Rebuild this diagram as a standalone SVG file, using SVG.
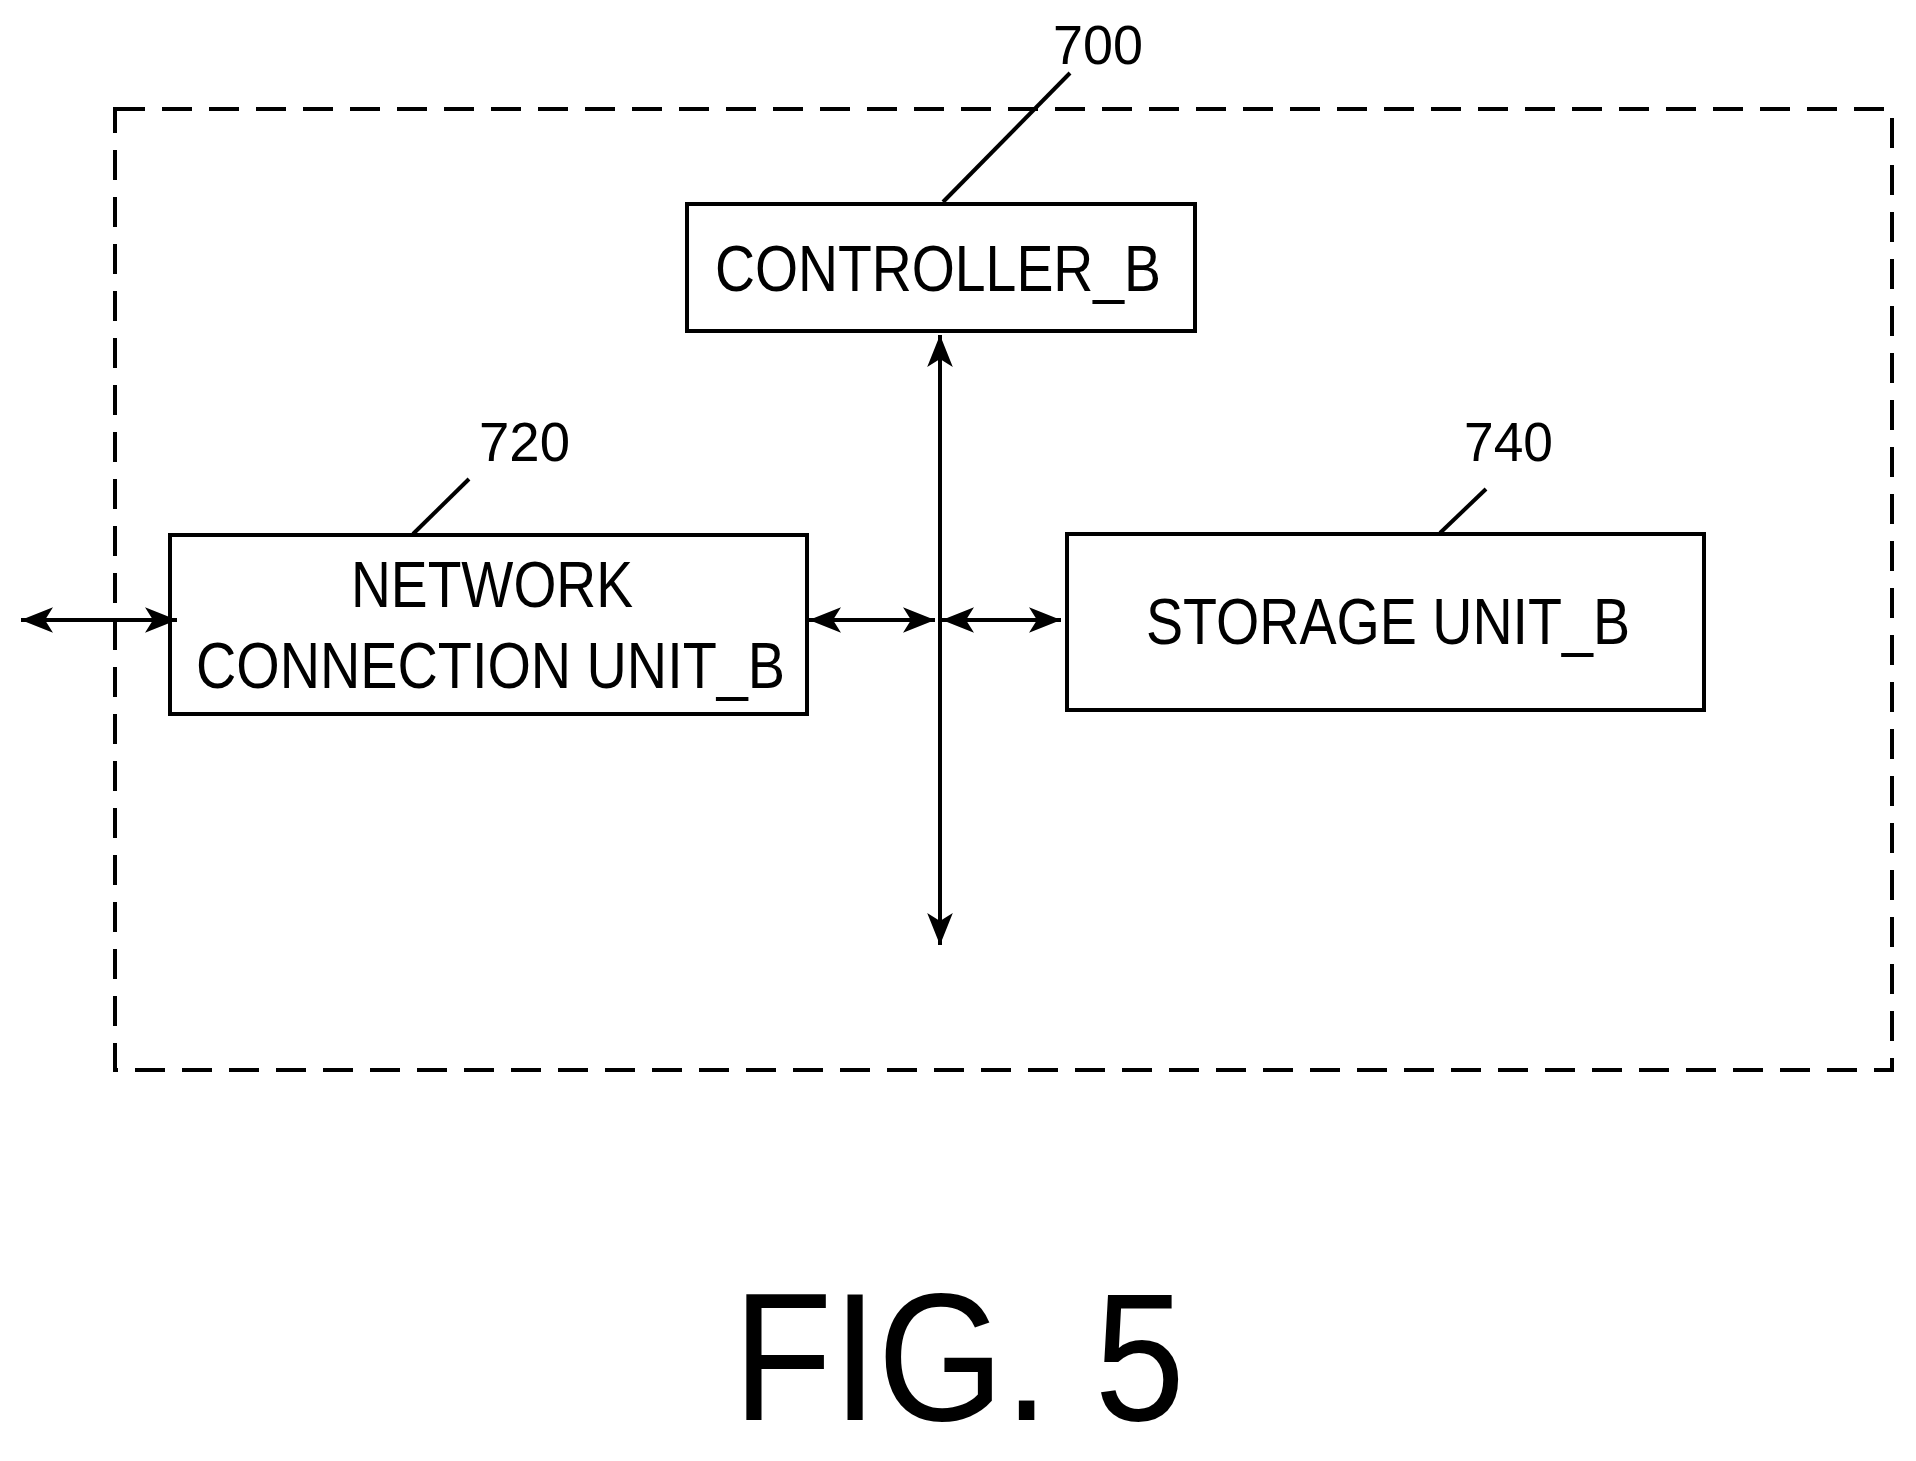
<svg xmlns="http://www.w3.org/2000/svg" width="1916" height="1461" viewBox="0 0 1916 1461">
<style>
.box{fill:#fff;stroke:#000;stroke-width:4}
.t{font-family:"Liberation Sans",Arial,sans-serif;fill:#000}
.ln{stroke:#000;stroke-width:4;fill:none}
</style>
<defs>
<marker id="a" viewBox="0 0 10 10" refX="10" refY="5" markerWidth="32" markerHeight="32" markerUnits="userSpaceOnUse" orient="auto-start-reverse">
<path d="M0,1 L10,5 L0,9 L2.5,5 Z" fill="#000"/>
</marker>
</defs>
<rect width="1916" height="1461" fill="#fff"/>
<rect x="115" y="109" width="1777" height="961" fill="none" stroke="#000" stroke-width="4" stroke-dasharray="30 17"/>
<g id="controller"><rect class="box" x="687" y="204" width="508" height="127"/>
<text class="t" x="715" y="291" font-size="64" textLength="446" lengthAdjust="spacingAndGlyphs">CONTROLLER_B</text></g>
<g id="network"><rect class="box" x="170" y="535" width="637" height="179"/>
<text class="t" x="351" y="607" font-size="64" textLength="282" lengthAdjust="spacingAndGlyphs">NETWORK</text>
<text class="t" x="196" y="688" font-size="64" textLength="589" lengthAdjust="spacingAndGlyphs">CONNECTION UNIT_B</text></g>
<g id="storage"><rect class="box" x="1067" y="534" width="637" height="176"/>
<text class="t" x="1146" y="644" font-size="64" textLength="484" lengthAdjust="spacingAndGlyphs">STORAGE UNIT_B</text></g>
<g id="labels">
<text class="t" x="1053" y="64" font-size="56" textLength="90" lengthAdjust="spacingAndGlyphs">700</text>
<text class="t" x="479" y="461" font-size="56" textLength="91" lengthAdjust="spacingAndGlyphs">720</text>
<text class="t" x="1464" y="461" font-size="56" textLength="89" lengthAdjust="spacingAndGlyphs">740</text>
<text class="t" x="733" y="1420" font-size="182" textLength="452" lengthAdjust="spacingAndGlyphs">FIG. 5</text>
</g>
<g id="connectors">
<line class="ln" x1="1070" y1="73" x2="943" y2="202"/>
<line class="ln" x1="469" y1="479" x2="413" y2="534"/>
<line class="ln" x1="1486" y1="489" x2="1440" y2="533"/>
<line class="ln" x1="940" y1="335" x2="940" y2="945" marker-start="url(#a)" marker-end="url(#a)"/>
<line class="ln" x1="21" y1="620" x2="177" y2="620" marker-start="url(#a)" marker-end="url(#a)"/>
<line class="ln" x1="809" y1="620" x2="935" y2="620" marker-start="url(#a)" marker-end="url(#a)"/>
<line class="ln" x1="942" y1="620" x2="1061" y2="620" marker-start="url(#a)" marker-end="url(#a)"/>
</g>
</svg>
